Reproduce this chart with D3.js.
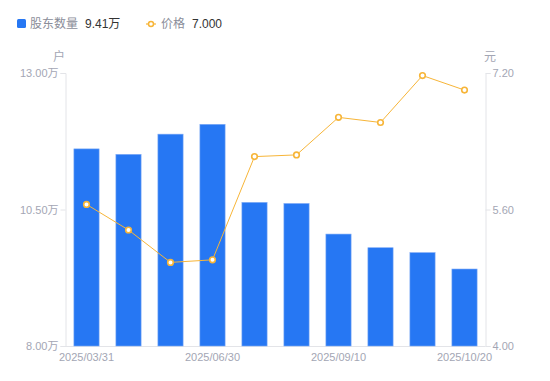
<!DOCTYPE html>
<html><head><meta charset="utf-8">
<script src="https://cdn.jsdelivr.net/npm/d3@7"></script>
<style>
body{margin:0;background:#fff;}
text{font-family:"Liberation Sans","Noto Sans CJK SC",sans-serif;}
</style></head>
<body><svg id="c" width="550" height="381"></svg>
<script>
const categories = ["2025/03/31","2025/04/30","2025/05/31","2025/06/30","2025/07/31","2025/08/20","2025/09/10","2025/09/30","2025/10/10","2025/10/20"];
const holders = [11.61, 11.51, 11.88, 12.06, 10.63, 10.61, 10.05, 9.80, 9.71, 9.41];
const prices = [5.66, 5.36, 4.98, 5.01, 6.22, 6.24, 6.68, 6.62, 7.17, 7.00];
const leftTicks = [8, 10.5, 13];
const rightTicks = [4.0, 5.6, 7.2];
const shownLabels = ["2025/03/31","2025/06/30","2025/09/10","2025/10/20"];

const svg = d3.select("#c");
const L = 65.5, R = 485.5, T = 73, B = 346;
const x = d3.scaleBand().domain(categories).range([L, R]).paddingInner(0.4).paddingOuter(0.2);
const yL = d3.scaleLinear().domain([8, 13]).range([B, T]);
const yR = d3.scaleLinear().domain([4, 7.2]).range([B, T]);
const gray = "#a3a6b4", axisCol = "#e3e4e8";

// axes
const gl = svg.append("g").attr("transform", `translate(${L},0)`)
  .call(d3.axisLeft(yL).tickValues(leftTicks).tickSize(5).tickPadding(2).tickFormat(d => d3.format(".2f")(d) + "万"));
const gr = svg.append("g").attr("transform", `translate(${R},0)`)
  .call(d3.axisRight(yR).tickValues(rightTicks).tickSize(5).tickPadding(2).tickFormat(d3.format(".2f")));
[gl, gr].forEach(g => {
  g.select(".domain").attr("stroke", axisCol);
  g.selectAll(".tick line").attr("stroke", axisCol);
  g.selectAll(".tick text").attr("fill", gray).attr("font-size", 11);
});
const gx = svg.append("g").attr("transform", `translate(0,${B})`)
  .call(d3.axisBottom(x).tickValues(shownLabels).tickSize(0).tickPadding(7));
gx.select(".domain").attr("stroke", axisCol).attr("d", `M${L},0.5H${R}`);
gx.selectAll(".tick text").attr("fill", gray).attr("font-size", 11);

svg.append("text").attr("x", 59).attr("y", 61).attr("text-anchor", "middle").attr("fill", gray).attr("font-size", 12).text("户");
svg.append("text").attr("x", 490).attr("y", 61).attr("text-anchor", "middle").attr("fill", gray).attr("font-size", 12).text("元");

// bars
svg.append("g").selectAll("rect").data(holders).join("rect")
  .attr("x", (d, i) => x(categories[i]))
  .attr("width", x.bandwidth())
  .attr("y", d => yL(d))
  .attr("height", d => B - yL(d))
  .attr("fill", "#2677f3")
  .attr("stroke", "#7eaaf6").attr("stroke-width", 0.6);

// line
const lineGen = d3.line().x((d, i) => x(categories[i]) + x.bandwidth() / 2).y(d => yR(d));
svg.append("path").datum(prices).attr("d", lineGen).attr("fill", "none").attr("stroke", "#f7b538").attr("stroke-width", 1);
svg.append("g").selectAll("circle").data(prices).join("circle")
  .attr("cx", (d, i) => x(categories[i]) + x.bandwidth() / 2)
  .attr("cy", d => yR(d))
  .attr("r", 2.8).attr("fill", "#fff").attr("stroke", "#f7b538").attr("stroke-width", 1.6);

// legend
const lg = svg.append("g");
lg.append("rect").attr("x", 17).attr("y", 19).attr("width", 9).attr("height", 9).attr("rx", 1.5).attr("fill", "#2677f3");
lg.append("text").attr("x", 30).attr("y", 28).attr("font-size", 12).attr("fill", "#8a8d99").text("股东数量");
lg.append("text").attr("x", 85).attr("y", 28).attr("font-size", 12).attr("fill", "#333").text(d3.format(".2f")(holders[holders.length - 1]) + "万");
lg.append("line").attr("x1", 146).attr("x2", 156).attr("y1", 24).attr("y2", 24).attr("stroke", "#f7b538").attr("stroke-width", 1.2);
lg.append("circle").attr("cx", 151).attr("cy", 24).attr("r", 2.5).attr("fill", "#fff").attr("stroke", "#f7b538").attr("stroke-width", 1.5);
lg.append("text").attr("x", 161).attr("y", 28).attr("font-size", 12).attr("fill", "#8a8d99").text("价格");
lg.append("text").attr("x", 192).attr("y", 28).attr("font-size", 12).attr("fill", "#333").text(d3.format(".3f")(prices[prices.length - 1]));
</script></body></html>
